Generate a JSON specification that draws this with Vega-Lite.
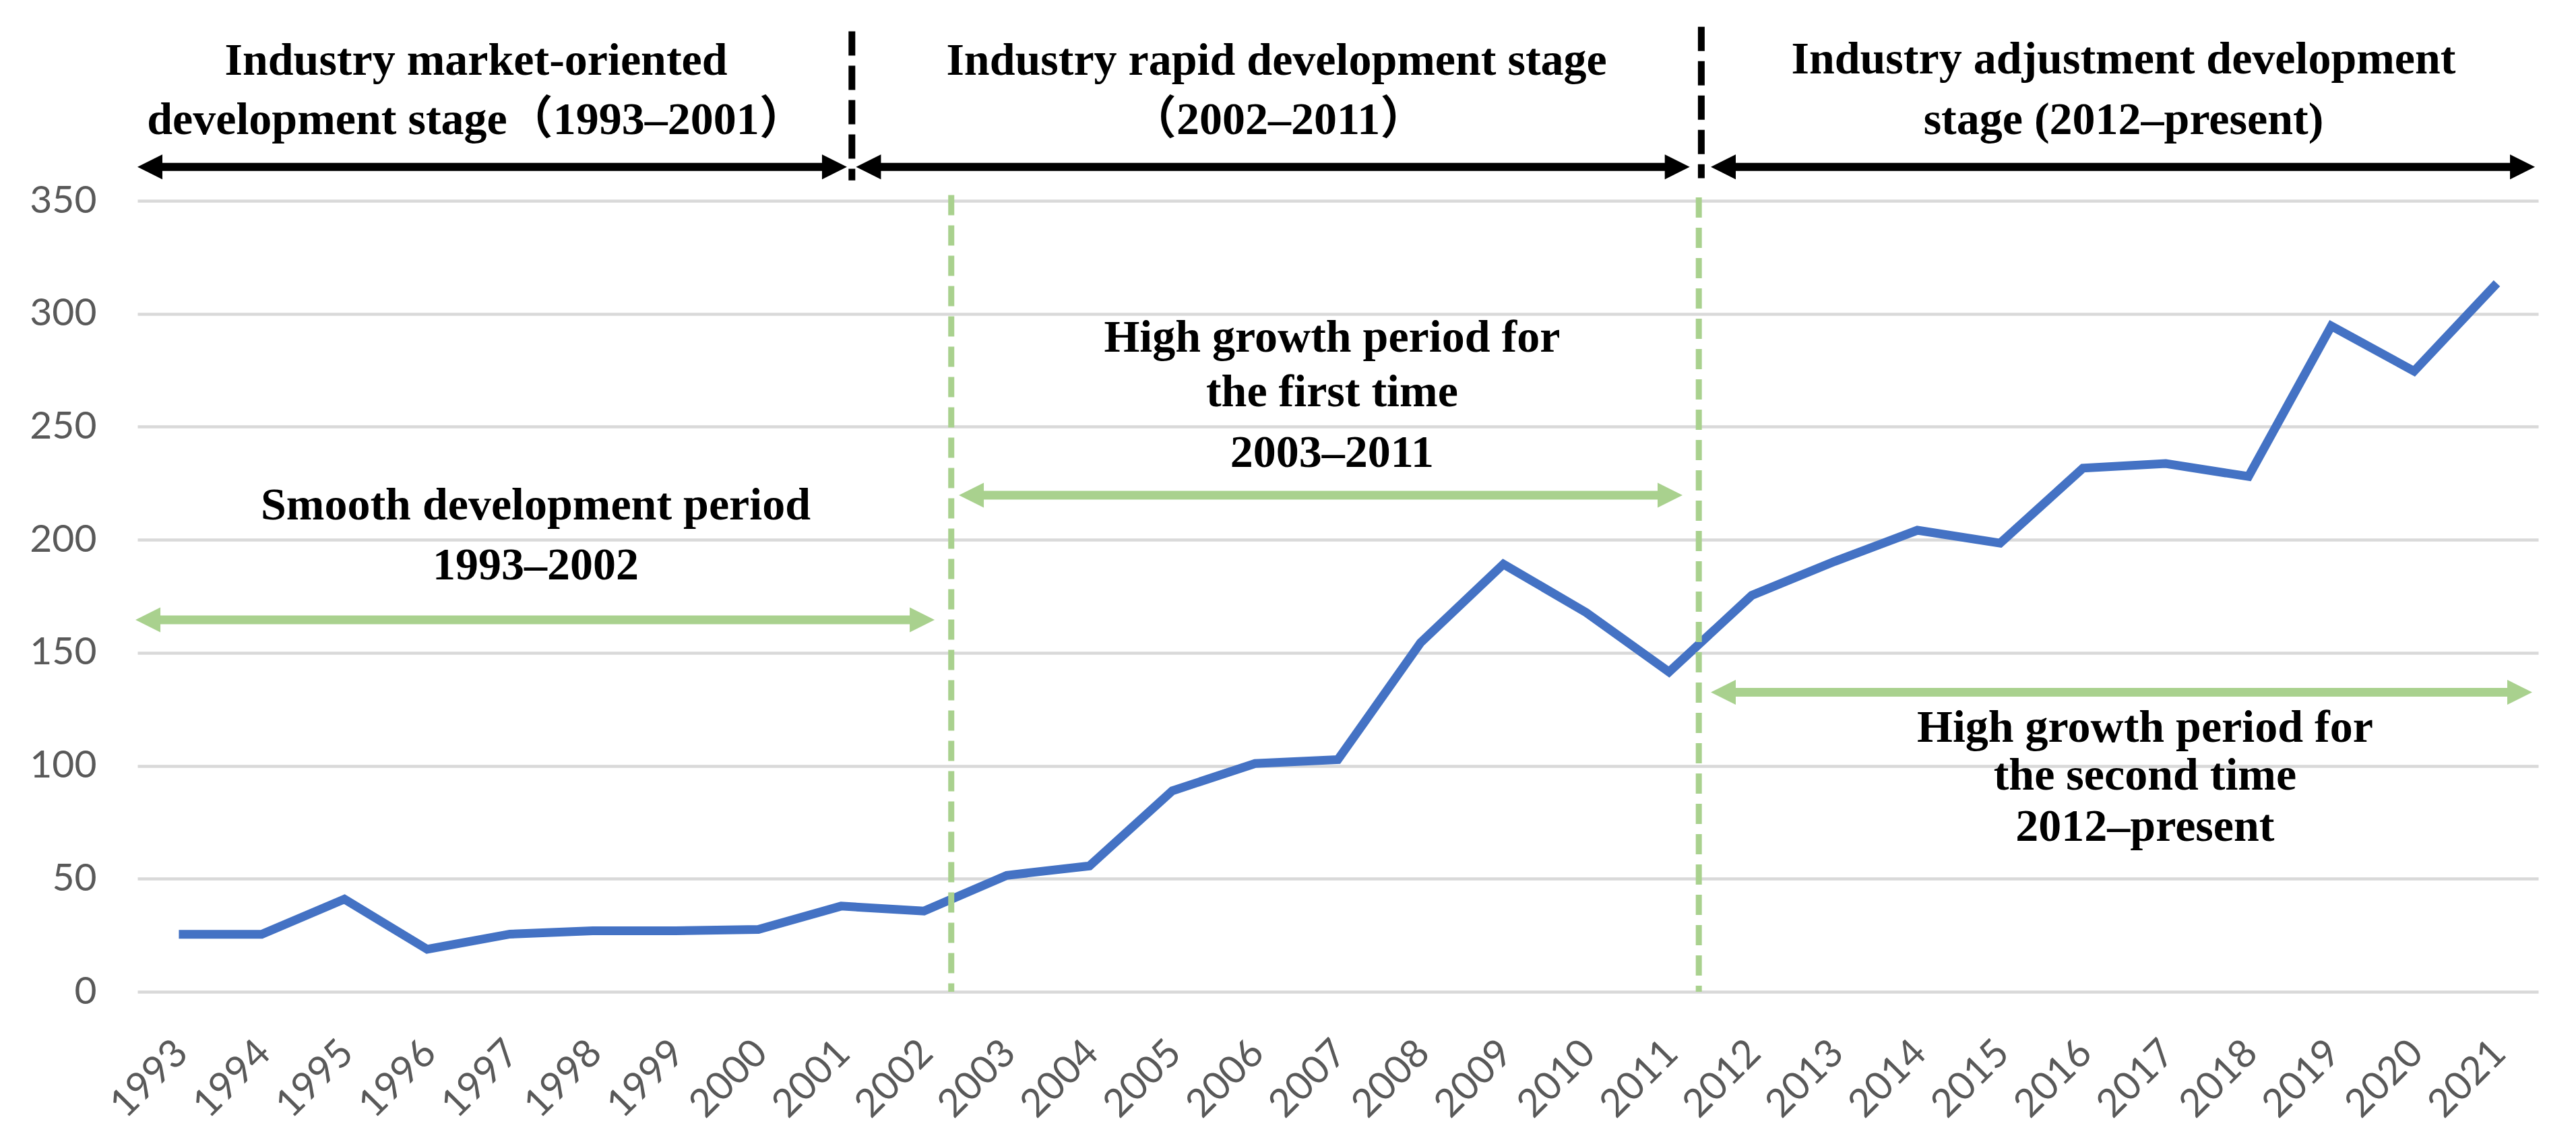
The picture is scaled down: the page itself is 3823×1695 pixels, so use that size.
{
  "$schema": "https://vega.github.io/schema/vega-lite/v6.json",
  "width": 3563,
  "height": 1174,
  "autosize": {"type": "none"},
  "padding": {"left": 204, "top": 298, "right": 56, "bottom": 223},
  "background": "white",
  "config": {"view": {"stroke": null}},
  "datasets": {
    "series": [
      {"year": 1993, "value": 25.4}, {"year": 1994, "value": 25.4}, {"year": 1995, "value": 41},
      {"year": 1996, "value": 18.8}, {"year": 1997, "value": 25.5}, {"year": 1998, "value": 27},
      {"year": 1999, "value": 27}, {"year": 2000, "value": 27.6}, {"year": 2001, "value": 37.9},
      {"year": 2002, "value": 35.7}, {"year": 2003, "value": 51.5}, {"year": 2004, "value": 55.7},
      {"year": 2005, "value": 88.9}, {"year": 2006, "value": 101}, {"year": 2007, "value": 102.7},
      {"year": 2008, "value": 154.5}, {"year": 2009, "value": 189.2}, {"year": 2010, "value": 167.8},
      {"year": 2011, "value": 141.5}, {"year": 2012, "value": 175.4}, {"year": 2013, "value": 190.4},
      {"year": 2014, "value": 204.2}, {"year": 2015, "value": 198.5}, {"year": 2016, "value": 231.7},
      {"year": 2017, "value": 233.7}, {"year": 2018, "value": 228}, {"year": 2019, "value": 294.6},
      {"year": 2020, "value": 274.6}, {"year": 2021, "value": 313.5}
    ],
    "stageDividers": [
      {"x": 2001.13, "y": 425, "y2": 359},
      {"x": 2011.39, "y": 427, "y2": 360}
    ],
    "periodDividers": [
      {"x": 2002.33, "y": 352.5, "y2": 0},
      {"x": 2011.36, "y": 351.5, "y2": 0}
    ],
    "stageArrows": [
      {"x1": 1992.5, "x2": 2001.07, "y": 365},
      {"x1": 2001.18, "x2": 2011.25, "y": 365},
      {"x1": 2011.505, "x2": 2021.46, "y": 365}
    ],
    "periodArrows": [
      {"x1": 1992.476, "x2": 2002.129, "y": 164.6},
      {"x1": 2002.422, "x2": 2011.163, "y": 219.7},
      {"x1": 2011.505, "x2": 2021.427, "y": 132.5}
    ],
    "labels": [
      {"x": 1996.59, "y": 405.8, "text": "Industry market-oriented"},
      {"x": 1996.59, "y": 379.5, "text": "development stage（1993–2001）"},
      {"x": 2006.26, "y": 405.8, "text": "Industry rapid development stage"},
      {"x": 2006.28, "y": 379.5, "text": "（2002–2011）"},
      {"x": 2016.49, "y": 406.3, "text": "Industry adjustment development"},
      {"x": 2016.49, "y": 379.5, "text": "stage (2012–present)"},
      {"x": 1997.31, "y": 209.0, "text": "Smooth development period"},
      {"x": 1997.31, "y": 182.5, "text": "1993–2002"},
      {"x": 2006.93, "y": 283.2, "text": "High growth period for"},
      {"x": 2006.93, "y": 259.1, "text": "the first time"},
      {"x": 2006.93, "y": 232.3, "text": "2003–2011"},
      {"x": 2016.75, "y": 110.6, "text": "High growth period for"},
      {"x": 2016.75, "y": 89.4, "text": "the second time"},
      {"x": 2016.75, "y": 66.8, "text": "2012–present"}
    ]
  },
  "layer": [
    {
      "data": {"name": "series"},
      "mark": {"type": "line", "color": "#4472C4", "strokeWidth": 13},
      "encoding": {
        "x": {
          "field": "year", "type": "quantitative",
          "scale": {"domain": [1992.5, 2021.5], "nice": false, "zero": false},
          "axis": {
            "title": null,
            "values": [1993, 1994, 1995, 1996, 1997, 1998, 1999, 2000, 2001, 2002, 2003, 2004, 2005, 2006, 2007, 2008, 2009, 2010, 2011, 2012, 2013, 2014, 2015, 2016, 2017, 2018, 2019, 2020, 2021],
            "format": "d",
            "grid": false, "domain": false, "ticks": false, "tickSize": 0,
            "labelAngle": -45, "labelAlign": "right", "labelBaseline": "middle",
            "labelPadding": 82, "labelOffset": 4,
            "labelFont": "Lato", "labelFontSize": 58, "labelColor": "#595959",
            "labelOverlap": false, "labelFlush": false, "labelBound": false
          }
        },
        "y": {
          "field": "value", "type": "quantitative",
          "scale": {"domain": [0, 350], "nice": false, "zero": true},
          "axis": {
            "title": null,
            "values": [0, 50, 100, 150, 200, 250, 300, 350],
            "grid": true, "gridColor": "#D9D9D9", "gridWidth": 4.5,
            "domain": false, "ticks": false, "tickSize": 0,
            "labelPadding": 61,
            "labelFont": "Lato", "labelFontSize": 57, "labelColor": "#595959",
            "labelOverlap": false, "labelFlush": false, "labelBound": false
          }
        }
      }
    },
    {
      "data": {"name": "stageDividers"},
      "mark": {"type": "rule", "color": "black", "strokeWidth": 10, "strokeDash": [36, 15]},
      "encoding": {
        "x": {"field": "x", "type": "quantitative", "axis": {"title": null}},
        "y": {"field": "y", "type": "quantitative", "axis": {"title": null}},
        "y2": {"field": "y2"}
      }
    },
    {
      "data": {"name": "stageArrows"},
      "mark": {"type": "rule", "color": "black", "strokeWidth": 12, "xOffset": 18, "x2Offset": -18},
      "encoding": {
        "x": {"field": "x1", "type": "quantitative", "axis": {"title": null}},
        "x2": {"field": "x2"},
        "y": {"field": "y", "type": "quantitative", "axis": {"title": null}}
      }
    },
    {
      "data": {"name": "stageArrows"},
      "mark": {"type": "point", "shape": "M 1 -1 L -1 0 L 1 1 Z", "size": 1369, "filled": true, "color": "black", "opacity": 1, "strokeWidth": 0, "xOffset": 18.5},
      "encoding": {
        "x": {"field": "x1", "type": "quantitative", "axis": {"title": null}},
        "y": {"field": "y", "type": "quantitative", "axis": {"title": null}}
      }
    },
    {
      "data": {"name": "stageArrows"},
      "mark": {"type": "point", "shape": "M -1 -1 L 1 0 L -1 1 Z", "size": 1369, "filled": true, "color": "black", "opacity": 1, "strokeWidth": 0, "xOffset": -18.5},
      "encoding": {
        "x": {"field": "x2", "type": "quantitative", "axis": {"title": null}},
        "y": {"field": "y", "type": "quantitative", "axis": {"title": null}}
      }
    },
    {
      "data": {"name": "periodArrows"},
      "mark": {"type": "rule", "color": "#A9D18E", "strokeWidth": 13, "xOffset": 18, "x2Offset": -18},
      "encoding": {
        "x": {"field": "x1", "type": "quantitative", "axis": {"title": null}},
        "x2": {"field": "x2"},
        "y": {"field": "y", "type": "quantitative", "axis": {"title": null}}
      }
    },
    {
      "data": {"name": "periodArrows"},
      "mark": {"type": "point", "shape": "M 1 -1 L -1 0 L 1 1 Z", "size": 1369, "filled": true, "color": "#A9D18E", "opacity": 1, "strokeWidth": 0, "xOffset": 18.5},
      "encoding": {
        "x": {"field": "x1", "type": "quantitative", "axis": {"title": null}},
        "y": {"field": "y", "type": "quantitative", "axis": {"title": null}}
      }
    },
    {
      "data": {"name": "periodArrows"},
      "mark": {"type": "point", "shape": "M -1 -1 L 1 0 L -1 1 Z", "size": 1369, "filled": true, "color": "#A9D18E", "opacity": 1, "strokeWidth": 0, "xOffset": -18.5},
      "encoding": {
        "x": {"field": "x2", "type": "quantitative", "axis": {"title": null}},
        "y": {"field": "y", "type": "quantitative", "axis": {"title": null}}
      }
    },
    {
      "data": {"name": "periodDividers"},
      "mark": {"type": "rule", "color": "#A9D18E", "strokeWidth": 9, "strokeDash": [30, 15]},
      "encoding": {
        "x": {"field": "x", "type": "quantitative", "axis": {"title": null}},
        "y": {"field": "y", "type": "quantitative", "axis": {"title": null}},
        "y2": {"field": "y2"}
      }
    },
    {
      "data": {"name": "labels"},
      "mark": {"type": "text", "font": "Liberation Serif, Noto Sans CJK SC", "fontWeight": "bold", "fontSize": 68, "color": "black", "align": "center", "baseline": "alphabetic"},
      "encoding": {
        "x": {"field": "x", "type": "quantitative", "axis": {"title": null}},
        "y": {"field": "y", "type": "quantitative", "axis": {"title": null}},
        "text": {"field": "text", "type": "nominal"}
      }
    }
  ]
}
